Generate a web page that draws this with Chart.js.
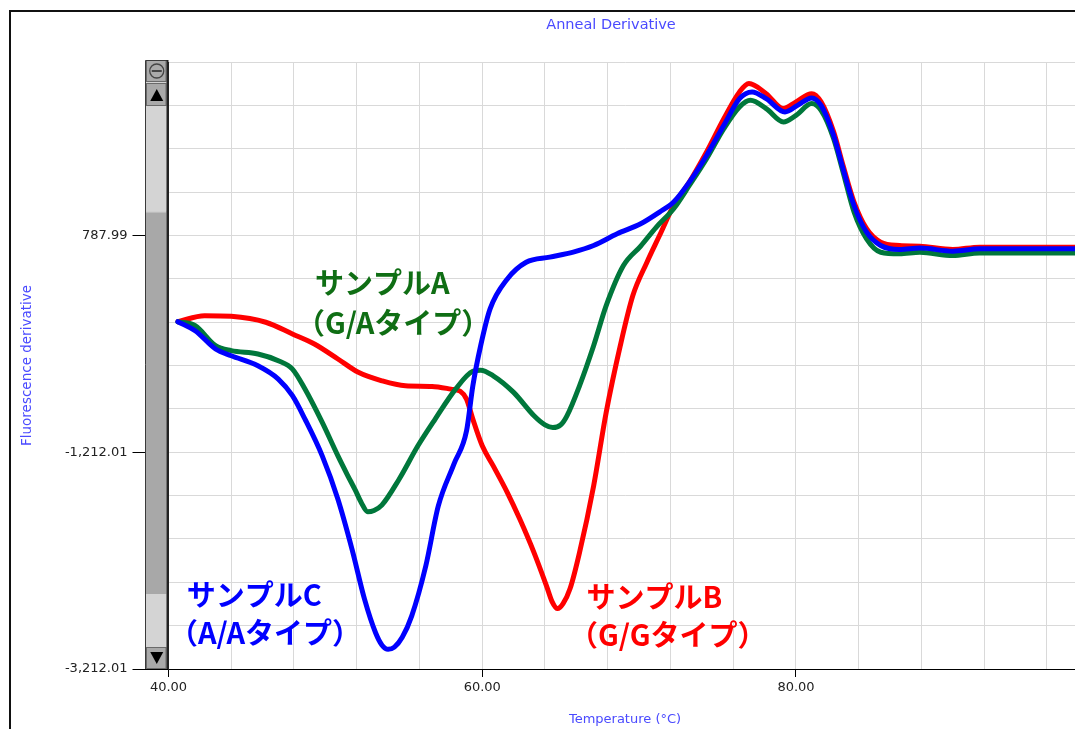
<!DOCTYPE html>
<html>
<head>
<meta charset="utf-8">
<script src="https://cdn.jsdelivr.net/npm/chart.js@4.4.1/dist/chart.umd.min.js"></script>
<style>
html,body{margin:0;padding:0;background:#fff;overflow:hidden}
#wrap{position:relative;width:1075px;height:729px;overflow:hidden}
canvas{display:block}
</style>
</head>
<body>
<div id="wrap"><canvas id="c" width="1222" height="729"></canvas></div>
<script>
// ---- data (temperature °C, fluorescence derivative) ----
const tempsA = [40.6,41.7,43.0,44.0,45.7,47.0,47.9,48.7,49.8,50.8,51.4,51.9,52.3,52.7,53.1,53.6,54.7,55.9,57.0,58.3,59.4,59.9,60.7,62.0,63.3,64.0,64.5,65.0,65.4,66.2,67.1,67.9,69.0,70.1,71.1,72.2,73.2,74.3,75.4,76.4,77.1,78.1,79.2,80.0,81.0,81.6,82.4,83.0,83.7,84.5,85.4,86.6,87.9,90.0,91.7,98.2];
const valuesA = [-8,-45,-229,-275,-306,-368,-445,-629,-937,-1246,-1420,-1560,-1680,-1762,-1750,-1700,-1461,-1153,-906,-630,-465,-455,-507,-660,-876,-960,-985,-960,-876,-599,-229,140,510,690,865,1034,1249,1496,1773,1974,2035,1958,1835,1896,2004,1942,1681,1373,1004,756,633,618,633,602,627,627];

const tempsB = [40.6,42.3,44.0,46.2,47.9,49.3,50.8,52.1,53.6,55.1,56.8,58.0,58.6,59.0,59.4,60.0,60.7,61.6,62.4,63.3,64.1,64.45,64.8,65.15,65.6,66.2,67.1,67.9,68.8,69.6,70.5,71.3,72.2,73.2,74.3,75.4,76.4,77.0,78.1,79.2,80.0,81.0,81.6,82.4,83.0,83.7,84.5,85.4,86.6,87.9,90.0,91.7,98.2];
const valuesB = [-8,48,42,-13,-121,-214,-352,-475,-553,-599,-605,-630,-650,-722,-907,-1153,-1338,-1584,-1831,-2138,-2447,-2590,-2655,-2610,-2470,-2138,-1523,-845,-229,233,541,787,1064,1280,1558,1865,2112,2189,2096,1958,2020,2096,2020,1743,1434,1096,850,726,695,689,658,680,680];

const tempsC = [40.6,41.7,43.0,44.0,45.7,47.0,47.9,48.7,49.8,50.8,51.7,52.5,53.2,53.6,54.0,54.4,54.9,55.5,56.4,57.2,58.2,59.0,59.4,59.9,60.5,61.6,62.8,64.3,65.8,67.1,68.6,70.1,71.3,72.2,73.2,74.3,75.4,76.4,77.2,78.1,79.3,80.1,81.0,81.6,82.4,83.0,83.7,84.5,85.4,86.6,87.9,90.0,91.7,98.2];
const valuesC = [-8,-91,-260,-322,-414,-537,-691,-907,-1246,-1646,-2108,-2570,-2878,-2990,-3030,-3010,-2920,-2724,-2262,-1708,-1320,-1015,-600,-229,110,387,541,588,634,695,803,895,1003,1096,1280,1526,1804,2050,2112,2050,1927,1988,2057,1988,1711,1403,1064,818,695,658,671,643,664,664];

// ---- axes ----
const xMin = 40, xMax = 98.2, xGridStep = 4;
const xLabelValues = [40, 60, 80];
const xTickLabels = ['40.00', '60.00', '80.00'];
const yMin = -3212.01, yMax = 2387.99, yGridStep = 400;
const yLabelValues = [-3212.01, -1212.01, 787.99];
const yTickLabels = ['-3,212.01', '-1,212.01', '787.99'];

// ---- annotations (text, anchor in data coords) ----
const notes = [
  {text:'サンプルA', t:49.34, v:350, color:'#0f6e14'},
  {text:'（G/Aタイプ）', t:48.13, v:-20, color:'#0f6e14'},
  {text:'サンプルC', t:41.16, v:-2533, color:'#0000ff'},
  {text:'（A/Aタイプ）', t:40.03, v:-2884, color:'#0000ff'},
  {text:'サンプルB', t:66.65, v:-2547, color:'#ff0000'},
  {text:'（G/Gタイプ）', t:65.53, v:-2902, color:'#ff0000'}
];

const xLabelIdx = v => xLabelValues.findIndex(l => Math.abs(l - v) < 0.01);
const yLabelIdx = v => yLabelValues.findIndex(l => Math.abs(l - v) < 0.5);
const pts = (ts, vs) => ts.map((t, i) => ({x: t, y: vs[i]}));

const framePlugin = {
  id: 'frame',
  beforeDraw(chart) {
    const c = chart.ctx;
    c.save();
    c.fillStyle = '#fff';
    c.fillRect(0, 0, chart.width, chart.height);
    c.strokeStyle = '#111';
    c.lineWidth = 2;
    c.beginPath();
    c.moveTo(10, chart.height + 5);
    c.lineTo(10, 11);
    c.lineTo(chart.width + 5, 11);
    c.stroke();
    c.restore();
  },
  afterDatasetsDraw(chart) {
    const c = chart.ctx, xs = chart.scales.x, ys = chart.scales.y;
    c.save();
    c.font = 'bold 29px "Noto Sans CJK JP"';
    c.textBaseline = 'middle';
    c.textAlign = 'left';
    notes.forEach(n => {
      c.fillStyle = n.color;
      c.fillText(n.text, xs.getPixelForValue(n.t), ys.getPixelForValue(n.v));
    });
    c.restore();
  },
  afterDraw(chart) {
    const c = chart.ctx, a = chart.chartArea;
    const R = a.left - 1, L = a.left - 23.5, T = a.top - 2, B = a.bottom;
    const W = R - L, cx = L + W / 2 + 0.5;
    c.save();
    c.fillStyle = '#d4d4d4';
    c.fillRect(L, T, W, B - T);
    c.fillStyle = '#a8a8a8';
    c.fillRect(L + 1, 211, W - 2, 594 - 211);
    c.fillStyle = '#cfcfcf';
    c.fillRect(L + 1, 211, W - 2, 1.5);
    const btn = (y0, y1) => {
      c.fillStyle = '#a9a9a9';
      c.fillRect(L + 1, y0, W - 2, y1 - y0);
      c.strokeStyle = '#6a6a6a';
      c.lineWidth = 1;
      c.strokeRect(L + 1.5, y0 + 0.5, W - 3, y1 - y0 - 1);
    };
    btn(T, T + 22);
    btn(T + 23, T + 46);
    btn(B - 22, B);
    c.strokeStyle = '#444';
    c.lineWidth = 1.3;
    c.beginPath(); c.arc(cx, T + 11, 7, 0, Math.PI * 2); c.stroke();
    c.lineWidth = 2;
    c.beginPath(); c.moveTo(cx - 5, T + 11); c.lineTo(cx + 5, T + 11); c.stroke();
    c.fillStyle = '#000';
    c.beginPath(); c.moveTo(cx - 6.5, T + 41); c.lineTo(cx + 6.5, T + 41); c.lineTo(cx, T + 29); c.closePath(); c.fill();
    c.beginPath(); c.moveTo(cx - 6.5, B - 17); c.lineTo(cx + 6.5, B - 17); c.lineTo(cx, B - 5); c.closePath(); c.fill();
    c.strokeStyle = '#3a3a3a';
    c.lineWidth = 1;
    c.beginPath(); c.moveTo(L + 0.5, B); c.lineTo(L + 0.5, T + 0.5); c.lineTo(R, T + 0.5); c.stroke();
    c.strokeStyle = '#222';
    c.lineWidth = 2;
    c.beginPath(); c.moveTo(R, T); c.lineTo(R, B); c.stroke();
    c.restore();
  }
};

const tickFont = {family: '"DejaVu Sans"', size: 13};
const titleColor = '#4a4aff';

new Chart(document.getElementById('c'), {
  type: 'line',
  data: {
    datasets: [
      {label: 'サンプルC（A/Aタイプ）', data: pts(tempsC, valuesC), borderColor: '#0000ff'},
      {label: 'サンプルA（G/Aタイプ）', data: pts(tempsA, valuesA), borderColor: '#00773b'},
      {label: 'サンプルB（G/Gタイプ）', data: pts(tempsB, valuesB), borderColor: '#ff0000'}
    ].map(d => Object.assign(d, {
      borderWidth: 5, pointRadius: 0, fill: false,
      cubicInterpolationMode: 'monotone', borderCapStyle: 'round', borderJoinStyle: 'round'
    }))
  },
  options: {
    responsive: false,
    animation: false,
    layout: {padding: 0},
    plugins: {
      legend: {display: false},
      tooltip: {enabled: false},
      title: {
        display: true, text: 'Anneal Derivative', color: titleColor,
        font: {family: '"DejaVu Sans"', size: 14.5, weight: 'normal'},
        padding: {top: 17, bottom: 27.6}
      }
    },
    scales: {
      x: {
        type: 'linear', min: xMin, max: xMax,
        afterBuildTicks: s => {
          const t = [];
          for (let v = xMin; v <= xMax + 1e-9; v += xGridStep) t.push({value: v});
          s.ticks = t;
        },
        afterFit: s => { s.height = 60; },
        ticks: {
          autoSkip: false, maxRotation: 0, padding: 3, color: '#222', font: tickFont,
          callback: v => { const i = xLabelIdx(v); return i >= 0 ? xTickLabels[i] : ''; }
        },
        grid: {
          color: '#d9d9d9', lineWidth: 1, tickLength: 8,
          tickColor: c => (c.tick && xLabelIdx(c.tick.value) >= 0) ? '#000' : 'rgba(0,0,0,0)'
        },
        border: {display: true, color: '#000', width: 1},
        title: {
          display: true, text: 'Temperature (°C)', color: titleColor,
          font: {family: '"DejaVu Sans"', size: 13}, padding: {top: 0, bottom: 1.2}
        }
      },
      y: {
        type: 'linear', min: yMin, max: yMax,
        afterBuildTicks: s => {
          const t = [];
          for (let i = 0; yMin + i * yGridStep <= yMax + 0.5; i++) t.push({value: yMin + i * yGridStep});
          s.ticks = t;
        },
        afterFit: s => { s.width = 168.5; },
        ticks: {
          autoSkip: false, padding: 5, color: '#222', font: tickFont,
          callback: v => { const i = yLabelIdx(v); return i >= 0 ? yTickLabels[i] : ''; }
        },
        grid: {
          color: '#d9d9d9', lineWidth: 1, tickLength: 36,
          tickColor: c => (c.tick && yLabelIdx(c.tick.value) >= 0) ? '#000' : 'rgba(0,0,0,0)'
        },
        border: {display: true, color: '#222', width: 1},
        title: {
          display: true, text: 'Fluorescence derivative', color: titleColor,
          font: {family: '"DejaVu Sans"', size: 13.5}, padding: {top: 19.4, bottom: 0}
        }
      },
      yRight: {
        type: 'linear', position: 'right', min: yMin, max: yMax,
        afterFit: s => { s.width = 140.5; },
        ticks: {display: false},
        grid: {display: false, drawTicks: false},
        border: {display: false}
      }
    }
  },
  plugins: [framePlugin]
});
</script>
</body>
</html>
